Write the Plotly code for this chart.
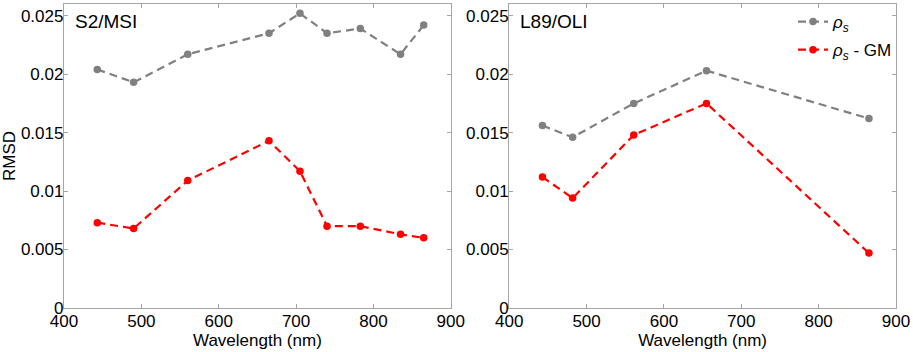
import plotly.graph_objects as go

# ---- data ----
s2_wavelength = [443, 490, 560, 665, 705, 740, 783, 835, 865]
s2_rho_s = [0.0204, 0.0193, 0.0217, 0.0235, 0.0252, 0.0235, 0.0239, 0.0217, 0.0242]
s2_rho_s_gm = [0.0073, 0.0068, 0.0109, 0.0143, 0.0117, 0.0070, 0.0070, 0.0063, 0.0060]

l89_wavelength = [443, 482, 561, 655, 865]
l89_rho_s = [0.0156, 0.0146, 0.0175, 0.0203, 0.0162]
l89_rho_s_gm = [0.0112, 0.0094, 0.0148, 0.0175, 0.0047]

series_names = ["<i>ρ<sub>s</sub></i>", "<i>ρ<sub>s</sub></i> - GM"]
panel_labels = ["S2/MSI", "L89/OLI"]
x_ticks = [400, 500, 600, 700, 800, 900]
y_ticks = [0, 0.005, 0.01, 0.015, 0.02, 0.025]
y_ticktext = ["0", "0.005", "0.01", "0.015", "0.02", "0.025"]

GRAY = "#808080"
RED = "#ff0000"
FONT = "Liberation Sans, Arial, sans-serif"
FS = 17

fig = go.Figure()

panels = [
    ("x", "y", s2_wavelength, s2_rho_s, s2_rho_s_gm, False),
    ("x2", "y2", l89_wavelength, l89_rho_s, l89_rho_s_gm, True),
]
for xa, ya, wl, a, b, show in panels:
    fig.add_trace(go.Scatter(
        x=wl, y=a, xaxis=xa, yaxis=ya, mode="lines+markers",
        name=series_names[0], showlegend=show, legendgroup="a",
        line=dict(color=GRAY, width=2.2, dash="8px,5px"),
        marker=dict(color=GRAY, size=7.5),
    ))
    fig.add_trace(go.Scatter(
        x=wl, y=b, xaxis=xa, yaxis=ya, mode="lines+markers",
        name=series_names[1], showlegend=show, legendgroup="b",
        line=dict(color=RED, width=2.2, dash="8px,5px"),
        marker=dict(color=RED, size=7.5),
    ))

axis_common = dict(
    showline=True, linecolor="#a6a6a6", linewidth=1.3, mirror="ticks",
    ticks="inside", ticklen=4, tickcolor="#a6a6a6", tickwidth=1,
    showgrid=False, zeroline=False,
    tickfont=dict(family=FONT, size=FS, color="black"),
)

xcommon = dict(axis_common, range=[400, 900], tickvals=x_ticks, ticklabelstandoff=-3,
               title=dict(text="Wavelength (nm)", font=dict(family=FONT, size=FS, color="black"), standoff=0))
ycommon = dict(axis_common, range=[0, 0.026], tickvals=y_ticks, ticktext=y_ticktext,
               ticklabelstandoff=-4)

fig.update_layout(
    width=913, height=352,
    margin=dict(l=64, r=14, t=3, b=44),
    paper_bgcolor="white", plot_bgcolor="white",
    font=dict(family=FONT, size=FS, color="black"),
    xaxis=dict(xcommon, domain=[0, 0.4649], anchor="y"),
    xaxis2=dict(xcommon, domain=[0.5351, 1], anchor="y2"),
    yaxis=dict(ycommon, domain=[0, 1], anchor="x",
               title=dict(text="RMSD", font=dict(family=FONT, size=FS, color="black"), standoff=0)),
    yaxis2=dict(ycommon, domain=[0, 1], anchor="x2"),
    showlegend=True,
    legend=dict(x=0.8762, y=1.0, xanchor="left", yanchor="top",
                bgcolor="rgba(0,0,0,0)", font=dict(family=FONT, size=FS, color="black"),
                tracegroupgap=3, itemwidth=30),
)

for i, lab in enumerate(panel_labels):
    xr = "x domain" if i == 0 else "x2 domain"
    yr = "y domain" if i == 0 else "y2 domain"
    fig.add_annotation(text=lab, xref=xr, yref=yr, x=0.024, y=0.943,
                       xanchor="left", yanchor="middle", showarrow=False,
                       font=dict(family=FONT, size=19, color="black"))

fig.write_html("out.html", config={"displayModeBar": False},
               post_script="document.body.style.margin='0';")
